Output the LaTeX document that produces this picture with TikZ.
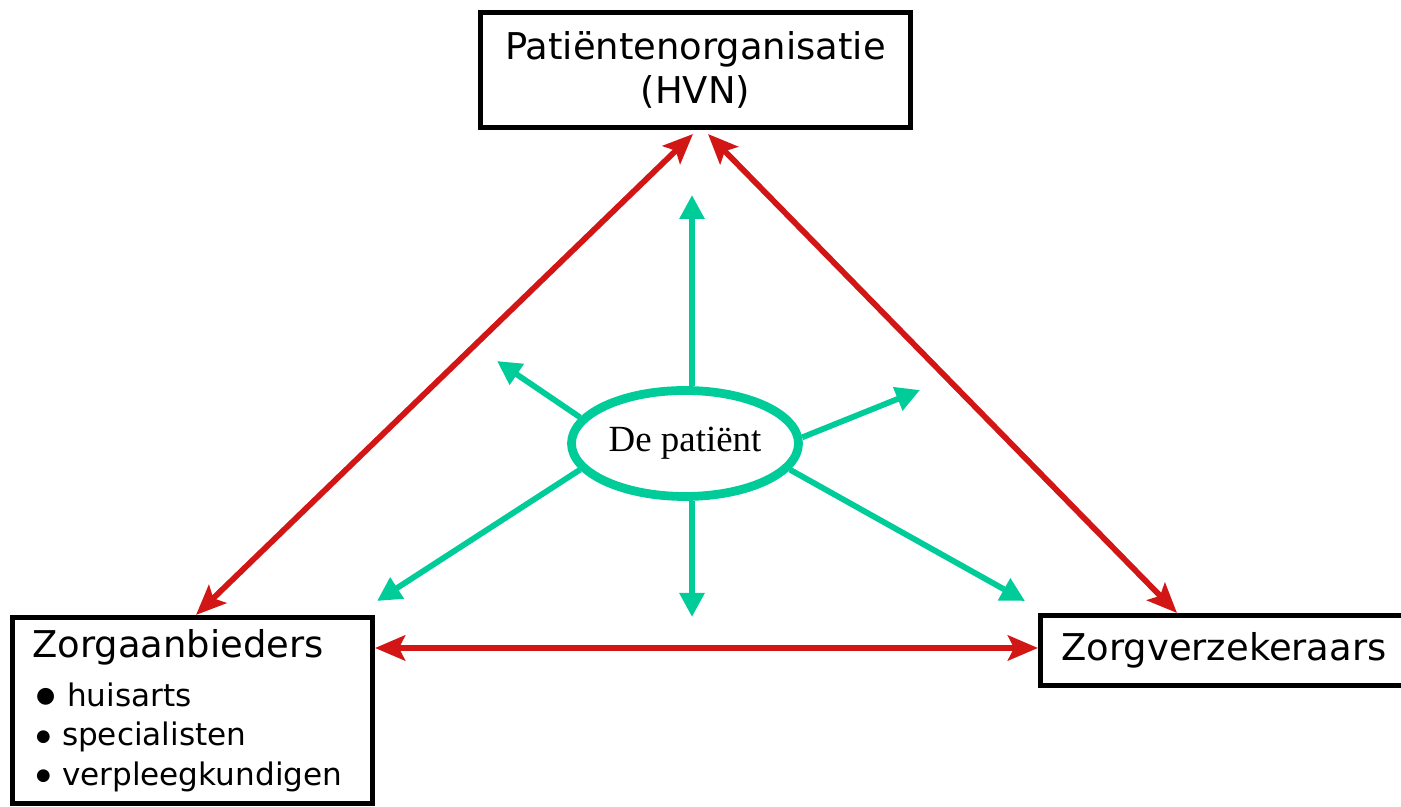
\documentclass[tikz,border=0pt]{standalone}
\usepackage{fontspec}
\setmainfont{DejaVu Sans}
\newfontfamily\timesfont{Liberation Serif}
\usepackage{tikz}
\usetikzlibrary{arrows.meta}
\usetikzlibrary{shapes.geometric}
\definecolor{rood}{RGB}{210,22,22}
\definecolor{groen}{RGB}{0,204,153}
\tikzset{
	kader/.style={draw, line width=2.85pt, inner sep=0pt, font=\fontsize{21}{25}\selectfont},
	roodpijl/.style={draw=rood, line width=3.3pt, {Stealth[length=0.6cm,width=0.5cm,inset=0.12cm]}-{Stealth[length=0.6cm,width=0.5cm,inset=0.12cm]}},
	groenpijl/.style={draw=groen, line width=3.3pt, -{Triangle[length=0.48cm,width=0.48cm]}}
}
\newcommand{\patpijl}[2]{\draw[groenpijl] (#1) -- (#2);}
\newcommand{\opsom}[3]{\makebox[#1][l]{\hspace{0.07cm}\raisebox{#3}{\fontsize{#2}{12}\selectfont ●}}}

\begin{document}
\begin{tikzpicture}

					\useasboundingbox (0,0) rectangle (28.02,16.14);

					\node[kader, minimum width=8.6cm, minimum height=2.3cm, align=center] (po) at (13.91,14.74) {Patiëntenorganisatie\\(HVN)};

					\node[kader, minimum width=7.2cm, minimum height=3.72cm, text width=6.4cm, align=left, font=\fontsize{17.7}{22.4}\selectfont] (za) at (3.85,1.93)
						{{\fontsize{21}{24}\selectfont Zorgaanbieders}\\[5.5pt]
						\opsom{0.69cm}{12.5}{2pt}huisarts\\
						\opsom{0.59cm}{9.5}{2.5pt}specialisten\\
						\opsom{0.59cm}{9.5}{2.5pt}verpleegkundigen};

					\node[kader, minimum width=7.34cm, minimum height=1.4cm] (zv) at (24.48,3.13) {Zorgverzekeraars};

					\node[draw=groen, line width=5pt, ellipse, minimum width=4.54cm, minimum height=2.12cm, inner sep=0pt, font=\timesfont\fontsize{21}{24}\selectfont] (pat) at (13.70,7.27) {De patiënt};

					\coordinate (tipN) at (13.84,12.24);
					\coordinate (tipZ) at (13.84,3.80);
					\coordinate (tipNW) at (9.94,8.92);
					\coordinate (tipNO) at (18.40,8.34);
					\coordinate (tipZW) at (7.54,4.12);
					\coordinate (tipZO) at (20.50,4.12);

					\patpijl{pat.north -| tipN}{tipN}
					\patpijl{pat.south -| tipZ}{tipZ}
					\patpijl{pat.166}{tipNW}
					\patpijl{pat.3}{tipNO}
					\patpijl{pat.194}{tipZW}
					\patpijl{pat.-14}{tipZO}

					\draw[roodpijl] ([xshift=-0.05cm,yshift=-0.08cm]po.south) -- ([xshift=0.07cm]za.north);
					\draw[roodpijl] ([xshift=0.25cm,yshift=-0.08cm]po.south) -- ([xshift=-0.94cm]zv.north);
					\draw[roodpijl] ([yshift=1.25cm]za.east) -- ([yshift=0.05cm]zv.west);

\end{tikzpicture}
\end{document}
